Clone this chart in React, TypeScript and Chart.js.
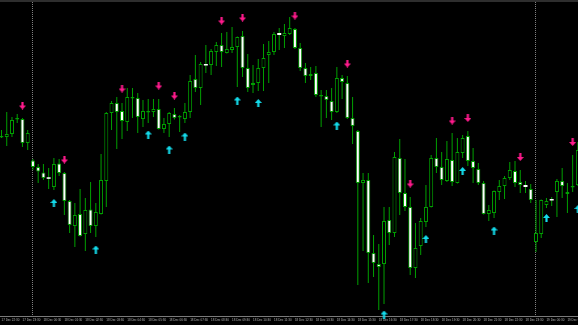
import React, { useEffect, useRef } from 'react';
import { Chart, registerables } from 'chart.js';

Chart.register(...registerables);

// M15 candles (price in chart points, bottom of the plot = 0)
const opens = [
  178.5, 179, 182, 196.5, 197, 173, 155.5, 149, 143.5, 138.2,
  129, 152.5, 143, 115, 90, 102, 82, 106.5, 90, 102,
  135, 203, 213, 205, 194, 217.5, 218, 197, 203.5, 204,
  207, 187, 192, 202, 198.5, 197, 204, 237, 228, 252,
  251, 264, 271, 263, 266, 269, 280, 248, 231, 233,
  248, 261, 264, 283, 280, 282, 287, 268, 248, 240,
  243, 219.5, 220, 215, 204, 238, 233, 198, 185, 133,
  136, 63, 52, 52, 96, 83, 158, 123, 109, 48,
  70, 94, 109, 158, 149, 135, 156, 133, 163, 180,
  155, 147, 133, 102, 103, 124, 130, 138, 145, 134,
  131, 127, 74, 82, 111, 117, 124, 135, 122, 128.5,
  131,
];
const highs = [
  186, 204, 199, 202, 198, 186, 157, 152, 152, 148,
  158, 157, 144, 116, 113, 127, 118, 134, 113, 162,
  204, 215, 219, 213, 228, 228, 223, 216, 217, 217,
  217, 198, 204, 208, 201, 213, 241, 261, 254, 271,
  267, 274, 283, 284, 289, 279.5, 285, 262, 251, 257,
  272, 275, 284, 288, 292, 299, 288, 273, 253, 249,
  250, 226, 226, 228, 249, 241, 240, 219, 186, 143,
  143, 81, 72, 109, 109, 164, 177, 157, 119, 93,
  98, 131, 161, 178, 164, 175, 183, 178, 181, 185,
  168, 153, 135, 111, 125.5, 136, 140, 154, 155, 146,
  135, 132, 116, 116.5, 118, 119, 137, 148, 133, 161,
  174,
];
const lows = [
  178, 170, 179, 193, 169, 166, 146, 133, 136, 127,
  126, 140, 101, 83, 69, 79.5, 65, 83, 79, 101.5,
  109, 186, 167, 177, 185, 198, 183, 189, 193, 199,
  186.5, 183, 179, 196.5, 184, 193, 198, 224, 211, 243,
  241, 250, 249, 262.5, 263, 229, 239, 224, 223, 225,
  225, 233, 261, 266, 268, 281, 267, 245, 233, 236,
  219, 189, 198, 196, 203, 217, 197, 172, 31, 65,
  33, 39, 6, 12, 71, 79, 101, 105, 41, 38,
  61, 89, 108.5, 143, 131, 134, 130, 132.5, 158, 150,
  133, 131, 101.5, 95, 98, 116, 117, 136, 129, 123,
  123, 113, 64, 78, 108, 110, 99, 118, 103, 124,
  130,
];
const closes = [
  179, 182, 196, 197, 173, 183, 149, 144.5, 138, 137.2,
  152, 143, 115, 91, 101, 80, 106, 90, 104, 136,
  203, 213, 204, 195, 219, 218, 199, 205, 204, 207,
  187, 192, 203, 198, 199, 204, 235, 228, 252, 250.5,
  265, 271, 264, 267, 269, 279, 248, 228, 233, 248,
  258, 264, 282, 281, 283, 288, 268, 248, 240, 242,
  221, 220, 216, 204, 238, 234, 198, 190, 133, 136,
  63, 53, 49, 95, 83, 159, 123, 109, 48, 68,
  95, 109, 158, 149, 136, 157, 134, 164, 178, 155,
  148, 133, 102, 106, 125, 130, 138, 146, 133, 131,
  129, 116, 83, 116, 115, 115.5, 135, 130, 124, 129,
  166,
];

// signal arrows (bar index, price)
const sellArrowIdx = [4, 12, 23, 30, 33, 42, 46, 56, 66, 78, 86, 89, 99, 109];
const sellArrowVal = [210.5, 156.5, 227.5, 230.5, 220.5, 295.5, 298.5, 300.5, 252.5, 132.5, 195.5, 198, 159, 174];
const buyArrowIdx = [10, 18, 28, 32, 35, 45, 49, 64, 73, 81, 88, 94, 104, 110];
const buyArrowVal = [113, 66.5, 181.5, 166.5, 179.5, 215.5, 213, 190.5, 1.5, 77, 145, 85.5, 98, 107];

// time axis
const tickIdx = [0, 4, 8, 12, 16, 20, 24, 28, 32, 36, 40, 44, 48, 52, 56, 60, 64, 68, 72, 76, 80, 84, 88, 92, 96, 100, 104, 108];
const tickLabels = [
  '17 Dec 22:30', '17 Dec 23:30', '18 Dec 00:30', '18 Dec 01:30', '18 Dec 02:30', '18 Dec 03:30', '18 Dec 04:30',
  '18 Dec 05:30', '18 Dec 06:30', '18 Dec 07:30', '18 Dec 08:30', '18 Dec 09:30', '18 Dec 10:30', '18 Dec 11:30',
  '18 Dec 12:30', '18 Dec 13:30', '18 Dec 14:30', '18 Dec 15:30', '18 Dec 16:30', '18 Dec 17:30', '18 Dec 18:30',
  '18 Dec 19:30', '18 Dec 20:30', '18 Dec 21:30', '18 Dec 22:30', '18 Dec 23:30', '19 Dec 00:30', '19 Dec 01:30',
];
const daySeparatorIdx = [6, 102];

const X_MIN = -0.286;
const X_MAX = 110.02;
const Y_MIN = 0;
const Y_MAX = 314;

const GREEN = '#00a000';
const PINK = '#ff1a8c';
const CYAN = '#14dcec';

function makeArrow(color: string, up: boolean): HTMLCanvasElement {
  const c = document.createElement('canvas');
  c.width = 7;
  c.height = 8;
  const g = c.getContext('2d')!;
  g.fillStyle = color;
  g.beginPath();
  if (up) {
    g.moveTo(3.5, 0);
    g.lineTo(7, 4);
    g.lineTo(4.6, 4);
    g.lineTo(4.6, 8);
    g.lineTo(2.4, 8);
    g.lineTo(2.4, 4);
    g.lineTo(0, 4);
  } else {
    g.moveTo(3.5, 8);
    g.lineTo(7, 4);
    g.lineTo(4.6, 4);
    g.lineTo(4.6, 0);
    g.lineTo(2.4, 0);
    g.lineTo(2.4, 4);
    g.lineTo(0, 4);
  }
  g.closePath();
  g.fill();
  return c;
}

const terminalPlugin = {
  id: 'terminalLook',
  beforeDraw(chart: any) {
    const { ctx, width, height } = chart;
    ctx.save();
    ctx.fillStyle = '#000000';
    ctx.fillRect(0, 0, width, height);
    ctx.fillStyle = '#2e2e2e';
    ctx.fillRect(0, 0, width, 2);
    ctx.restore();
  },
  beforeDatasetsDraw(chart: any) {
    const { ctx, chartArea } = chart;
    const xs = chart.scales.x;
    ctx.save();
    ctx.strokeStyle = '#808080';
    ctx.lineWidth = 1;
    ctx.setLineDash([1, 1]);
    daySeparatorIdx.forEach((idx) => {
      const px = Math.floor(xs.getPixelForValue(idx)) + 0.5;
      ctx.beginPath();
      ctx.moveTo(px, chartArea.top);
      ctx.lineTo(px, chartArea.bottom);
      ctx.stroke();
    });
    ctx.restore();
  },
};

export default function App() {
  const ref = useRef<HTMLCanvasElement | null>(null);

  useEffect(() => {
    document.body.style.margin = '0';
    document.body.style.background = '#000';
    const canvas = ref.current;
    if (!canvas) return;

    const bodies = opens.map((o, i) => ({ x: i, y: [o, closes[i]] }));
    const wicks = lows.map((l, i) => ({ x: i, y: [l, highs[i]] }));
    const sells = sellArrowIdx.map((x, i) => ({ x, y: sellArrowVal[i] }));
    const buys = buyArrowIdx.map((x, i) => ({ x, y: buyArrowVal[i] }));

    const isBear = (i: number) => closes[i] < opens[i];

    const chart = new Chart(canvas, {
      type: 'bar',
      data: {
        datasets: [
          {
            type: 'scatter',
            data: sells,
            pointStyle: makeArrow(PINK, false),
            pointRadius: 4,
            clip: false,
            order: 0,
          } as any,
          {
            type: 'scatter',
            data: buys,
            pointStyle: makeArrow(CYAN, true),
            pointRadius: 4,
            clip: false,
            order: 0,
          } as any,
          {
            type: 'bar',
            data: bodies as any,
            backgroundColor: (c: any) => (isBear(c.dataIndex) ? '#ffffff' : '#000000'),
            borderColor: GREEN,
            borderWidth: (c: any) => {
              const i = c.dataIndex;
              return isBear(i) && Math.abs(opens[i] - closes[i]) < 2.5 ? 0 : 1;
            },
            borderSkipped: false,
            barThickness: 4,
            grouped: false,
            minBarLength: 1.5,
            inflateAmount: 0,
            order: 1,
          } as any,
          {
            type: 'bar',
            data: wicks as any,
            backgroundColor: GREEN,
            borderWidth: 0,
            barThickness: 1,
            grouped: false,
            inflateAmount: 0,
            order: 2,
          } as any,
        ],
      },
      options: {
        animation: false,
        responsive: false,
        devicePixelRatio: 1,
        events: [],
        layout: { autoPadding: false, padding: { top: 2, left: 0, right: 0, bottom: 0 } },
        plugins: {
          legend: { display: false },
          tooltip: { enabled: false },
        },
        scales: {
          x: {
            type: 'linear',
            min: X_MIN,
            max: X_MAX,
            offset: false,
            bounds: 'data',
            grid: { display: false, drawTicks: false },
            border: { display: true, color: '#7a7a7a', width: 1 },
            ticks: {
              autoSkip: false,
              maxRotation: 0,
              minRotation: 0,
              align: 'start',
              padding: 2.5,
              color: '#b4b4b4',
              font: { size: 3, family: 'Liberation Sans' },
              callback: (v: any) => {
                const k = tickIdx.indexOf(Number(v));
                return k >= 0 ? tickLabels[k] : '';
              },
            },
            afterBuildTicks: (scale: any) => {
              scale.ticks = tickIdx.map((v) => ({ value: v }));
            },
            afterFit: (scale: any) => {
              scale.height = 9;
              scale.paddingLeft = 0;
              scale.paddingRight = 0;
            },
          } as any,
          y: {
            type: 'linear',
            display: false,
            min: Y_MIN,
            max: Y_MAX,
          },
        },
      },
      plugins: [terminalPlugin],
    });

    return () => chart.destroy();
  }, []);

  return (
    <div style={{ position: 'fixed', left: 0, top: 0, width: 578, height: 325, background: '#000' }}>
      <canvas ref={ref} width={578} height={325} style={{ display: 'block', width: 578, height: 325 }} />
    </div>
  );
}
